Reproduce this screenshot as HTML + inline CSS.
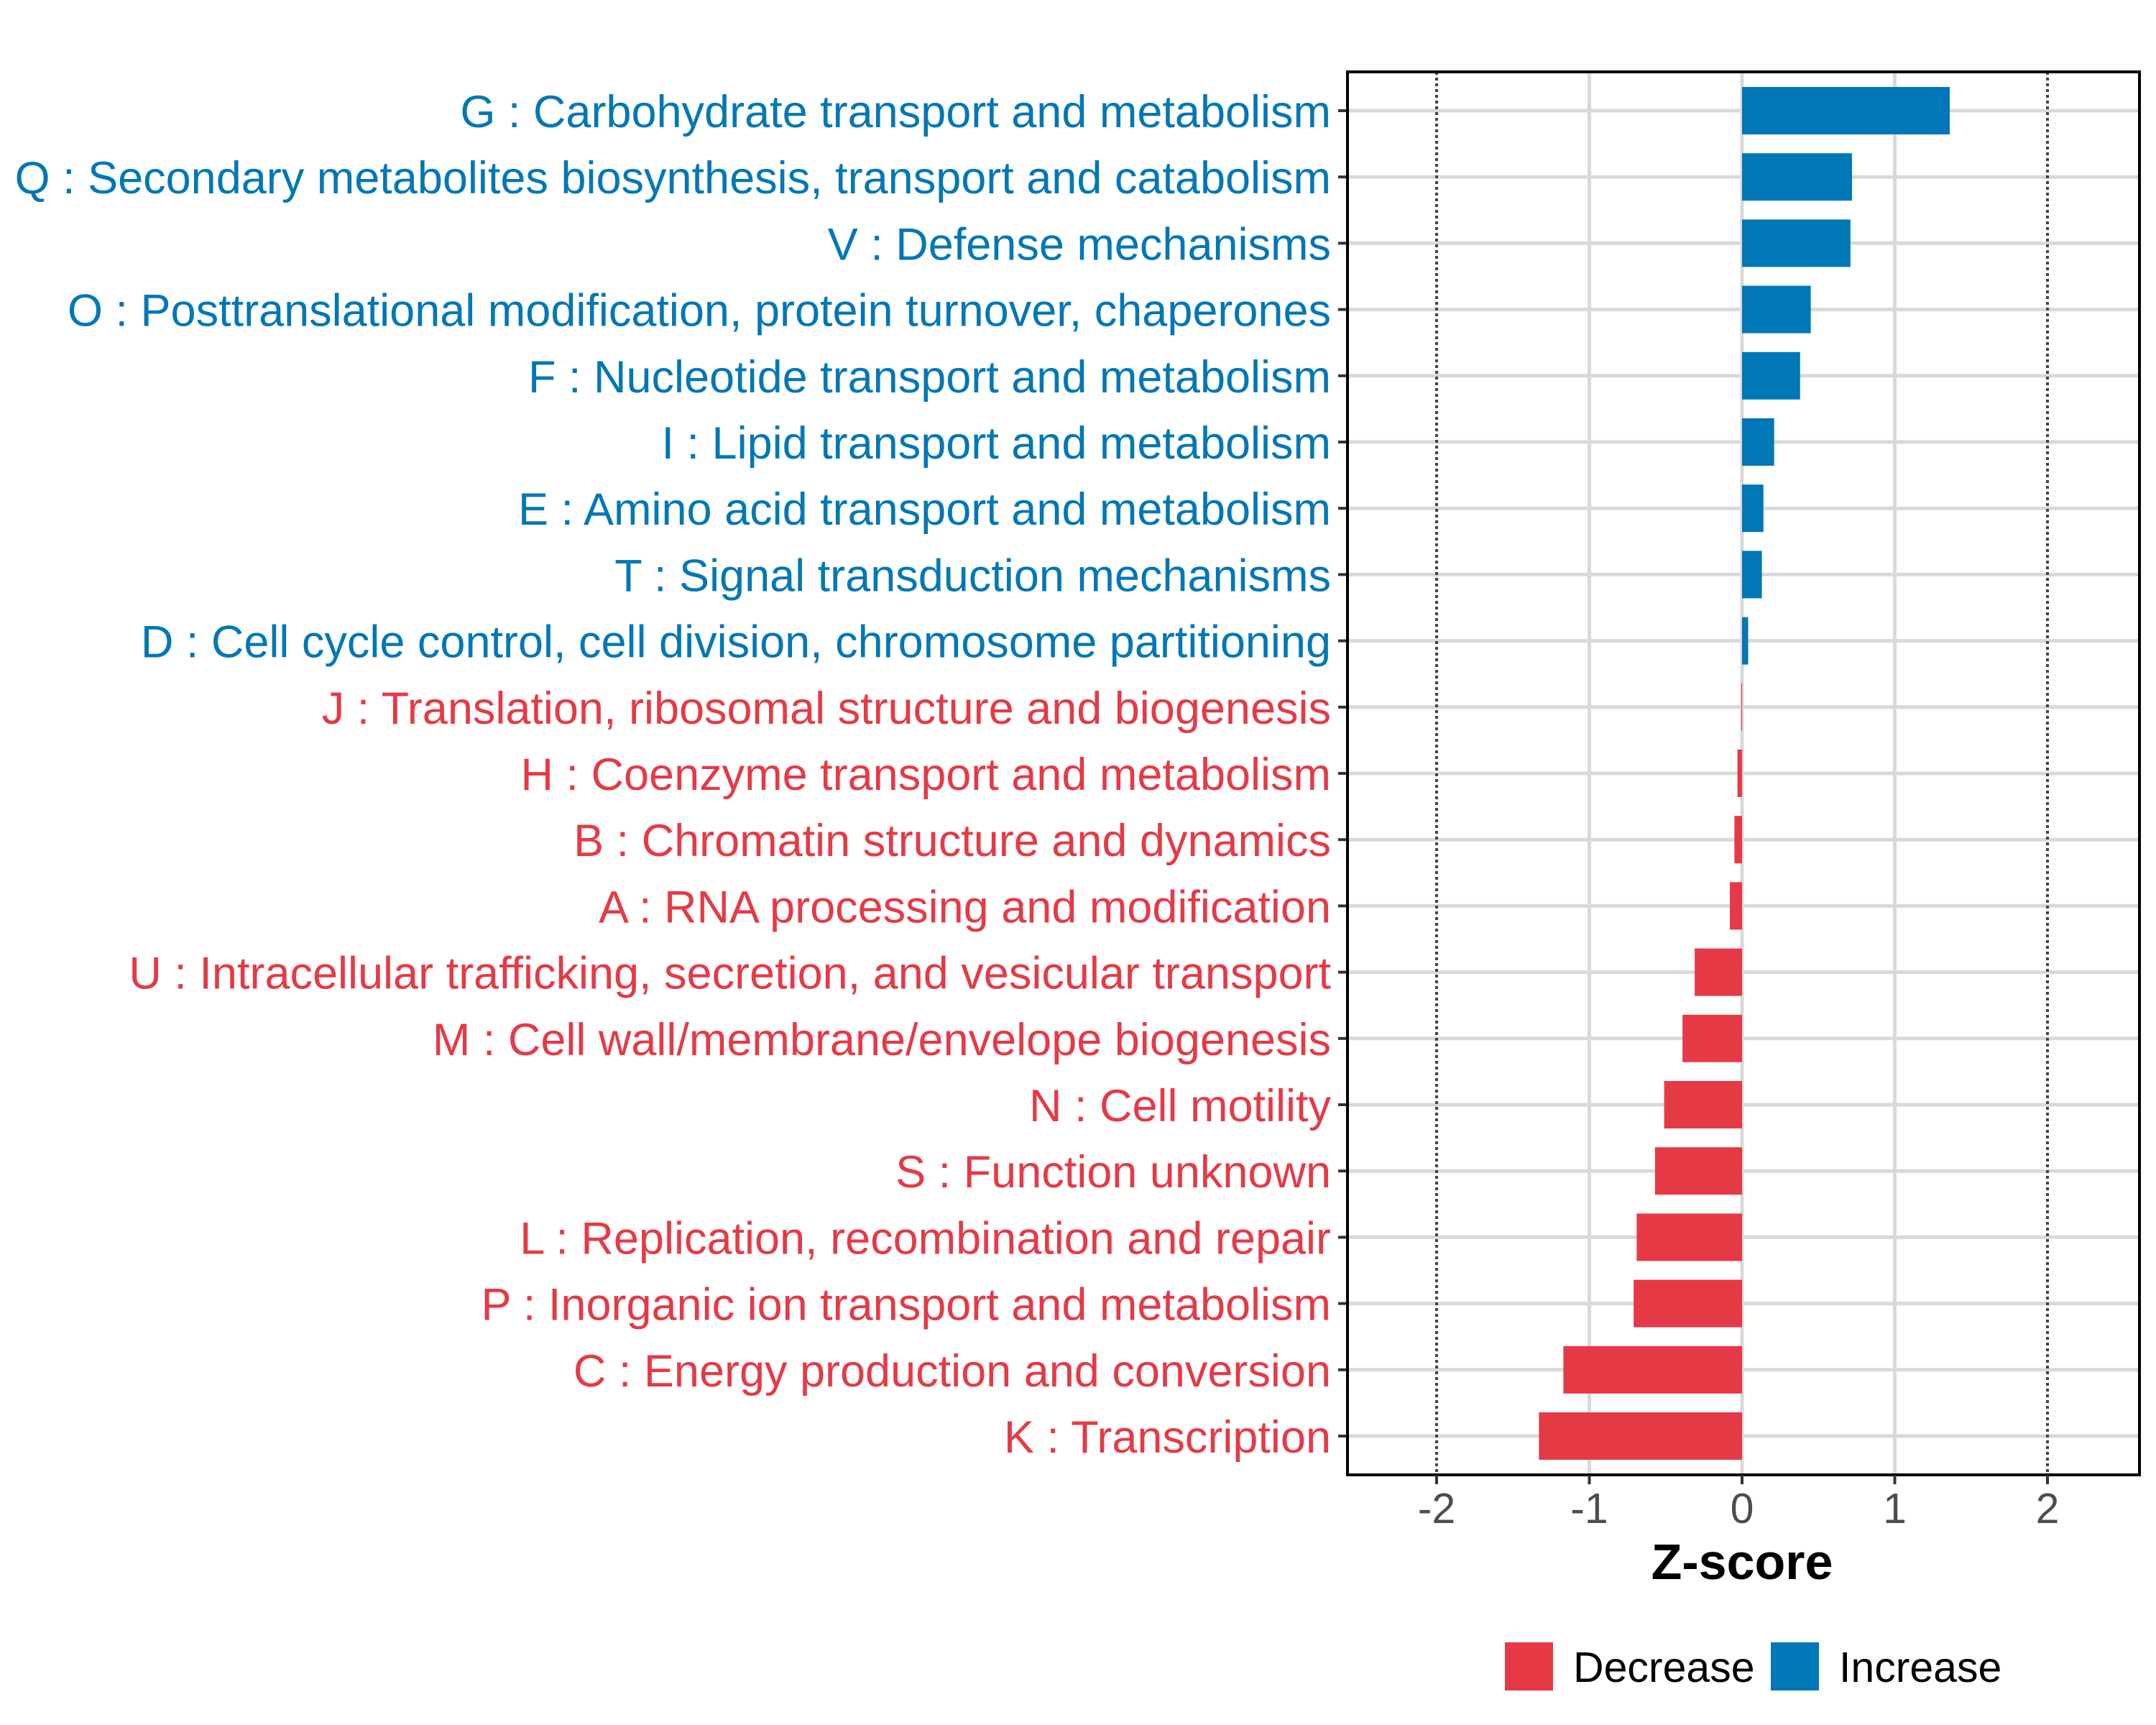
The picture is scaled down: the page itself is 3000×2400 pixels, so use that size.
<!DOCTYPE html>
<html><head><meta charset="utf-8"><style>
html,body{margin:0;padding:0;background:#fff;width:3000px;height:2400px;overflow:hidden}
svg{display:block;font-family:"Liberation Sans",Arial,sans-serif}
</style></head><body>
<svg id="chart" width="3000" height="2400" viewBox="0 0 3000 2400" xmlns="http://www.w3.org/2000/svg">
<g id="grid"></g>
<g id="bars"></g>
<g id="labels"></g>
<g id="xaxis"></g>
<text x="2424" y="2197" font-size="70" font-weight="bold" text-anchor="middle" fill="#000">Z-score</text>
<g>
<rect x="2094" y="2285" width="67" height="67" fill="#E63946"/>
<text x="2189" y="2340" font-size="59" fill="#000">Decrease</text>
<rect x="2464" y="2285" width="67" height="67" fill="#0077B6"/>
<text x="2559" y="2340" font-size="59" fill="#000">Increase</text>
</g>
</svg>
<script>
const categories = ["G : Carbohydrate transport and metabolism","Q : Secondary metabolites biosynthesis, transport and catabolism","V : Defense mechanisms","O : Posttranslational modification, protein turnover, chaperones","F : Nucleotide transport and metabolism","I : Lipid transport and metabolism","E : Amino acid transport and metabolism","T : Signal transduction mechanisms","D : Cell cycle control, cell division, chromosome partitioning","J : Translation, ribosomal structure and biogenesis","H : Coenzyme transport and metabolism","B : Chromatin structure and dynamics","A : RNA processing and modification","U : Intracellular trafficking, secretion, and vesicular transport","M : Cell wall/membrane/envelope biogenesis","N : Cell motility","S : Function unknown","L : Replication, recombination and repair","P : Inorganic ion transport and metabolism","C : Energy production and conversion","K : Transcription"];
const zscores = [1.36,0.72,0.71,0.45,0.38,0.21,0.14,0.13,0.04,-0.005,-0.03,-0.05,-0.08,-0.31,-0.39,-0.51,-0.57,-0.69,-0.71,-1.17,-1.33];
const xTicks = [-2,-1,0,1,2];
const xTickLabels = ["-2","-1","0","1","2"];
const refLines = [-2,2];

const NS="http://www.w3.org/2000/svg";
const L=1875,R=2977,T=100,B=2052;
const X0=2424,UNIT=212.5;
const x=v=>X0+v*UNIT;
const Y0=154,STEP=92.2;
const y=i=>Y0+i*STEP;
const BLUE="#0077B6",RED="#E63946";
function mk(tag,attrs,parent){const e=document.createElementNS(NS,tag);for(const k in attrs)e.setAttribute(k,attrs[k]);parent.appendChild(e);return e;}
const grid=document.getElementById('grid'),bars=document.getElementById('bars'),labels=document.getElementById('labels'),xaxis=document.getElementById('xaxis');
categories.forEach((c,i)=>{
  const g=mk('line',{x1:L,x2:R,y1:y(i),y2:y(i),stroke:"#d9d9d9","stroke-width":5},grid);
  
  
});
xTicks.forEach(t=>{
  if(refLines.includes(t))return;
  const g=mk('line',{x1:x(t),x2:x(t),y1:T,y2:B,stroke:"#d9d9d9","stroke-width":5},grid);
  
  
});
refLines.forEach(t=>{
  const l=mk('line',{x1:x(t),x2:x(t),y1:T,y2:B,stroke:"#444","stroke-width":4,"stroke-dasharray":"4 4"},grid);
  
  
});
zscores.forEach((v,i)=>{
  const x1=Math.min(x(0),x(v)),w=Math.max(Math.abs(x(v)-x(0)),0.5);
  const r=mk('rect',{x:x1,y:y(i)-33,width:w,height:66,fill:v>=0?BLUE:RED},bars);
  
  
  const t=mk('text',{x:1852,y:y(i)+23,"font-size":63,"text-anchor":"end",fill:v>=0?BLUE:RED},labels);
  t.textContent=categories[i];
  
  
  const tk=mk('line',{x1:L-13,x2:L,y1:y(i),y2:y(i),stroke:"#333","stroke-width":4},xaxis);
  
  
});
const frame=mk('rect',{x:L,y:T,width:R-L,height:B-T,fill:"none",stroke:"#000","stroke-width":4},xaxis);


xTicks.forEach((t,i)=>{
  const tk=mk('line',{x1:x(t),x2:x(t),y1:B,y2:B+13,stroke:"#333","stroke-width":4},xaxis);
  
  
  const lb=mk('text',{x:x(t),y:2119,"font-size":59,"text-anchor":"middle",fill:"#4d4d4d"},xaxis);
  lb.textContent=xTickLabels[i];
  
  
});
</script>
</body></html>
